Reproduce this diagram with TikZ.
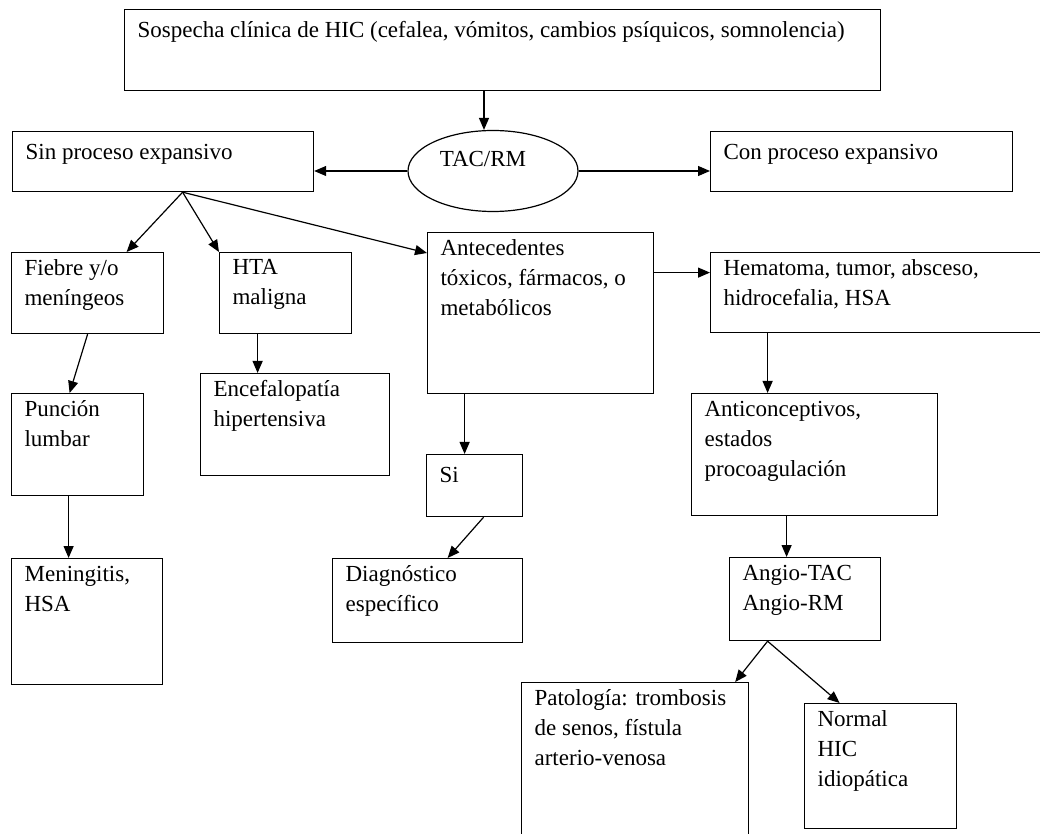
\documentclass[tikz,border=0pt]{standalone}
\usepackage{fontspec}
\setmainfont{Liberation Serif}
\usetikzlibrary{arrows.meta,calc,shapes.geometric}

\begin{document}
\begin{tikzpicture}[x=0.5pt,y=-0.5pt,>={Triangle[length=6pt,width=5pt]},line width=0.6pt,
  box/.style={draw,anchor=north west,inner sep=0pt},
  txt/.style={anchor=north west,align=left,inner sep=0pt,xshift=6.5pt,yshift=-3.6pt,
    font=\fontsize{11.5}{15}\selectfont,execute at begin node=\strut}]
\useasboundingbox (0,0) rectangle (1040,834);
\clip (0,0) rectangle (1040,834);
\node[box,minimum width=378pt,minimum height=40.5pt,label={[txt]north west:Sospecha clínica de HIC (cefalea, vómitos, cambios psíquicos, somnolencia)}] (susp) at (124,9) {};
\node[draw,ellipse,inner sep=0pt,minimum width=85pt,minimum height=40.5pt,label={[anchor=center,xshift=-5pt,yshift=6pt,font=\fontsize{11.5}{15}\selectfont]center:TAC/RM}] (tac) at (493,171) {};
\node[box,minimum width=150.5pt,minimum height=30pt,label={[txt]north west:Sin proceso expansivo}] (sin) at (12,131) {};
\node[box,minimum width=151pt,minimum height=30pt,label={[txt]north west:Con proceso expansivo}] (con) at (710,131) {};
\node[box,minimum width=76pt,minimum height=40.5pt,label={[txt]north west:Fiebre y/o\\meníngeos}] (fiebre) at (11,252) {};
\node[box,minimum width=66pt,minimum height=40.5pt,label={[txt]north west:HTA\\maligna}] (hta) at (219,252) {};
\node[box,minimum width=113pt,minimum height=80.5pt,label={[txt]north west:Antecedentes\\tóxicos, fármacos, o\\metabólicos}] (ante) at (427,232) {};
\node[box,minimum width=180pt,minimum height=40pt,label={[txt]north west:Hematoma, tumor, absceso,\\hidrocefalia, HSA}] (hema) at (710,252) {};
\node[box,minimum width=66pt,minimum height=51pt,label={[txt]north west:Punción\\lumbar}] (punc) at (11,393) {};
\node[box,minimum width=94.5pt,minimum height=51pt,label={[txt]north west:Encefalopatía\\hipertensiva}] (ence) at (200,373) {};
\node[box,minimum width=48pt,minimum height=31pt,label={[txt]north west:Si}] (si) at (426,454) {};
\node[box,minimum width=123pt,minimum height=61pt,label={[txt]north west:Anticonceptivos,\\estados\\procoagulación}] (anti) at (691,393) {};
\node[box,minimum width=75.5pt,minimum height=63pt,label={[txt]north west:Meningitis,\\HSA}] (men) at (11,558) {};
\node[box,minimum width=95pt,minimum height=42pt,label={[txt]north west:Diagnóstico\\específico}] (diag) at (332,558) {};
\node[box,minimum width=75.5pt,minimum height=41.5pt,label={[txt]north west:Angio-TAC\\Angio-RM}] (angio) at (729,557) {};
\node[box,minimum width=113.5pt,minimum height=95pt,label={[txt]north west:Patología: trombosis\\de senos, fístula\\arterio-venosa}] (pato) at (521,682) {};
\node[box,minimum width=76pt,minimum height=62.5pt,label={[txt]north west:Normal\\HIC\\idiopática}] (normal) at (804,703) {};

\draw[->] ([xshift=-4.5pt]tac.north |- susp.south) -- ([xshift=-4.5pt]tac.north);
\draw[->] (tac.west) -- (tac.west -| sin.east);
\draw[->] (tac.east) -- (tac.east -| con.west);
\coordinate (sinb) at ([xshift=9.75pt]sin.south);
\draw[->] (sinb) -- ([xshift=19.5pt]fiebre.north);
\draw[->] (sinb) -- (hta.north west);
\draw[->] (sinb) -- ([yshift=-10.5pt]ante.north west);
\draw[->] ([yshift=20.25pt]ante.east) -- ([yshift=20.25pt]ante.east -| hema.west);
\draw[->] (fiebre.south) -- ([xshift=-4pt]punc.north);
\draw[->] ([xshift=-14pt]hta.south) -- ([xshift=-14pt]hta.south |- ence.north);
\draw[->] ([xshift=-5pt]si.north |- ante.south) -- ([xshift=-5pt]si.north);
\draw[->] ([xshift=-23.5pt]anti.north |- hema.south) -- ([xshift=-23.5pt]anti.north);
\draw[->] ([xshift=-9.25pt]men.north |- punc.south) -- ([xshift=-9.25pt]men.north);
\draw[->] ([xshift=4.5pt]si.south) -- ([xshift=10pt]diag.north);
\draw[->] ([xshift=-14pt]anti.south) -- ([xshift=-14pt]anti.south |- angio.north);
\coordinate (angb) at ([xshift=-18.75pt]angio.south);
\draw[->] (angb) -- ([xshift=-7pt]pato.north east);
\draw[->] (angb) -- ([xshift=-20.5pt]normal.north);
\end{tikzpicture}
\end{document}
